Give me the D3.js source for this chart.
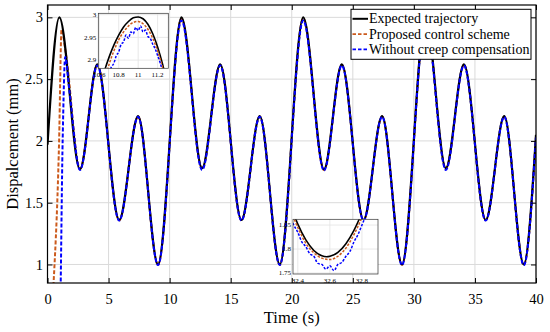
<!DOCTYPE html>
<html>
<head>
<meta charset="utf-8">
<script src="https://cdn.jsdelivr.net/npm/d3@7"></script>
<style>
  body { margin: 0; background: #fff; }
  svg { display: block; font-family: "Liberation Serif", "Times New Roman", serif; }
</style>
</head>
<body>
<svg id="chart" width="550" height="332"></svg>
<script>
// main traces, read at the turning points of the curves
const timeExpected = [0, 0.97, 2.66, 4.08, 5.87, 7.42, 9.05, 10.97, 12.66, 14.14, 15.88, 17.38, 19.02,
  20.94, 22.64, 24.1, 25.88, 27.4, 29.03, 30.96, 32.62, 34.1, 35.88, 37.4, 39.0, 40];
const valExpected = [1.97, 3.0, 1.77, 2.62, 1.36, 2.2, 1.0, 3.0, 1.78, 2.62, 1.36, 2.2, 1.0,
  3.0, 1.77, 2.62, 1.36, 2.2, 1.0, 3.0, 1.78, 2.62, 1.36, 2.2, 1.0, 2.05];

const timeProposed = [0, 0.42, 0.95, 1.15, 1.5, 2.66, 4.08, 5.87, 7.42, 9.05, 10.97, 12.66, 14.14, 15.88, 17.38, 19.02,
  20.94, 22.64, 24.1, 25.88, 27.4, 29.03, 30.96, 32.62, 34.1, 35.88, 37.4, 39.0, 40];
const valProposed = [0, 0.7, 2.0, 2.9, 2.71, 1.775, 2.615, 1.357, 2.197, 0.997, 2.99, 1.775, 2.615, 1.357, 2.197, 0.997,
  2.99, 1.765, 2.615, 1.357, 2.197, 0.997, 2.99, 1.775, 2.615, 1.357, 2.197, 0.997, 2.04];

const timeNoComp = [0, 1.0, 1.24, 1.45, 1.8, 2.66, 4.08, 5.87, 7.42, 9.05, 10.97, 12.66, 14.14, 15.88, 17.38, 19.02,
  20.94, 22.64, 24.1, 25.88, 27.4, 29.03, 30.96, 32.62, 34.1, 35.88, 37.4, 39.0, 40];
const valNoComp = [0, 0.5, 2.0, 2.68, 2.4, 1.765, 2.61, 1.355, 2.195, 0.995, 2.975, 1.765, 2.61, 1.355, 2.195, 0.995,
  2.975, 1.76, 2.61, 1.355, 2.195, 0.995, 2.975, 1.765, 2.61, 1.355, 2.195, 0.995, 2.03];

// inset 1 (peak near t = 11 s)
const in1TimeExp = [10.6, 10.65, 10.7, 10.75, 10.8, 10.85, 10.9, 10.95, 11.0, 11.05, 11.1, 11.15, 11.2, 11.25, 11.3];
const in1ValExp = [2.837, 2.874, 2.906, 2.933, 2.955, 2.973, 2.985, 2.993, 2.995, 2.991, 2.979, 2.958, 2.929, 2.892, 2.846];
const in1TimeProp = [10.6, 10.65, 10.7, 10.75, 10.8, 10.85, 10.9, 10.95, 11.0, 11.05, 11.1, 11.15, 11.2, 11.25, 11.3];
const in1ValProp = [2.81, 2.85, 2.89, 2.92, 2.945, 2.962, 2.975, 2.983, 2.985, 2.98, 2.968, 2.948, 2.92, 2.885, 2.84];
const in1TimeNo = [10.675, 10.7, 10.725, 10.75, 10.775, 10.8, 10.825, 10.85, 10.875, 10.9, 10.925, 10.95, 10.975, 11.0,
  11.025, 11.05, 11.075, 11.1, 11.125, 11.15, 11.175, 11.2, 11.225, 11.25, 11.275];
const in1ValNo = [2.855, 2.87, 2.885, 2.893, 2.91, 2.918, 2.935, 2.94, 2.955, 2.948, 2.962, 2.958, 2.972, 2.965,
  2.975, 2.962, 2.966, 2.952, 2.948, 2.935, 2.925, 2.91, 2.895, 2.875, 2.85];

// inset 2 (valley near t = 32.6 s)
const in2TimeExp = [32.35, 32.4, 32.45, 32.5, 32.55, 32.58, 32.6, 32.65, 32.7, 32.75, 32.8, 32.85];
const in2ValExp = [1.895, 1.852, 1.819, 1.797, 1.786, 1.784, 1.785, 1.793, 1.811, 1.839, 1.876, 1.923];
const in2TimeProp = [32.35, 32.4, 32.45, 32.5, 32.55, 32.6, 32.65, 32.7, 32.75, 32.8, 32.85];
const in2ValProp = [1.885, 1.845, 1.812, 1.792, 1.781, 1.778, 1.785, 1.802, 1.83, 1.866, 1.91];
const in2TimeNo = [32.35, 32.375, 32.4, 32.425, 32.45, 32.475, 32.5, 32.525, 32.55, 32.575, 32.6, 32.625, 32.65,
  32.675, 32.7, 32.725, 32.75, 32.775, 32.8, 32.825, 32.85];
const in2ValNo = [1.87, 1.85, 1.835, 1.815, 1.805, 1.79, 1.785, 1.77, 1.768, 1.758, 1.765, 1.755, 1.768,
  1.772, 1.785, 1.795, 1.815, 1.83, 1.85, 1.87, 1.89];

const xTicks = [0, 5, 10, 15, 20, 25, 30, 35, 40];
const yTicks = [1, 1.5, 2, 2.5, 3];
const seriesNames = ["Expected trajectory", "Proposed control scheme", "Without creep compensation"];

const colors = ["#000000", "#cc5a1c", "#0000ff"];
const drawOrder = [1, 0, 2]; // brown underneath so the blue dashes sit on the black line

const svg = d3.select("#chart");
const m = { left: 47.5, right: 536, top: 5, bottom: 283 };

const x = d3.scaleLinear().domain([0, 40]).range([m.left, m.right]);
const y = d3.scaleLinear().domain([0.85, 3.1]).range([m.bottom, m.top]);

const zip = (ts, vs) => ts.map((t, i) => [t, vs[i]]);
const mainSeries = [
  zip(timeExpected, valExpected),
  zip(timeProposed, valProposed),
  zip(timeNoComp, valNoComp)
];

svg.append("defs").append("clipPath").attr("id", "plotClip")
  .append("rect").attr("x", m.left).attr("y", m.top)
  .attr("width", m.right - m.left).attr("height", m.bottom - m.top);

// grid
svg.append("g").selectAll("line").data(xTicks).join("line")
  .attr("x1", d => x(d)).attr("x2", d => x(d)).attr("y1", m.top).attr("y2", m.bottom)
  .attr("stroke", "#dadada").attr("stroke-width", 1);
svg.append("g").selectAll("line").data(yTicks).join("line")
  .attr("y1", d => y(d)).attr("y2", d => y(d)).attr("x1", m.left).attr("x2", m.right)
  .attr("stroke", "#dadada").attr("stroke-width", 1);

// curves
const line = d3.line().x(d => x(d[0])).y(d => y(d[1])).curve(d3.curveMonotoneX);
const plot = svg.append("g").attr("clip-path", "url(#plotClip)");
drawOrder.forEach(i => {
  plot.append("path").datum(mainSeries[i]).attr("d", line)
    .attr("fill", "none").attr("stroke", colors[i])
    .attr("stroke-width", i === 0 ? 2.2 : 2)
    .attr("stroke-dasharray", i === 0 ? null : "4,2");
});

// axes
const styleAxis = g => {
  g.select(".domain").remove();
  g.selectAll("line").attr("stroke", "#000").attr("stroke-width", 1);
  g.selectAll("text").attr("font-size", "14.5px").attr("fill", "#000")
    .attr("font-family", "Liberation Serif, serif");
};
svg.append("g").attr("transform", `translate(0,${m.bottom})`)
  .call(d3.axisBottom(x).tickValues(xTicks).tickSize(-5).tickPadding(11)).call(styleAxis);
svg.append("g").attr("transform", `translate(${m.left},0)`)
  .call(d3.axisLeft(y).tickValues(yTicks).tickFormat(d3.format("")).tickSize(-5).tickPadding(4.5)).call(styleAxis);
svg.append("g").attr("transform", `translate(0,${m.top})`)
  .call(d3.axisTop(x).tickValues(xTicks).tickSize(-5).tickFormat("")).call(styleAxis);
svg.append("g").attr("transform", `translate(${m.right},0)`)
  .call(d3.axisRight(y).tickValues(yTicks).tickSize(-5).tickFormat("")).call(styleAxis);
svg.append("rect").attr("x", m.left).attr("y", m.top)
  .attr("width", m.right - m.left).attr("height", m.bottom - m.top)
  .attr("fill", "none").attr("stroke", "#000").attr("stroke-width", 1.2);

// axis titles
svg.append("text").attr("x", (m.left + m.right) / 2).attr("y", 323)
  .attr("text-anchor", "middle").attr("font-size", "16.5px").text("Time (s)");
svg.append("text").attr("transform", `translate(18,${(m.top + m.bottom) / 2}) rotate(-90)`)
  .attr("text-anchor", "middle").attr("font-size", "16.5px").text("Dispalcement (mm)");

// insets
function drawInset(id, box, xd, yd, xt, yt, series) {
  const ix = d3.scaleLinear().domain(xd).range([box.x0, box.x1]);
  const iy = d3.scaleLinear().domain(yd).range([box.y1, box.y0]);
  const g = svg.append("g");
  g.append("defs").append("clipPath").attr("id", id)
    .append("rect").attr("x", box.x0).attr("y", box.y0)
    .attr("width", box.x1 - box.x0).attr("height", box.y1 - box.y0);
  g.append("rect").attr("x", box.x0).attr("y", box.y0)
    .attr("width", box.x1 - box.x0).attr("height", box.y1 - box.y0).attr("fill", "#fff");
  g.append("g").selectAll("line").data(xt).join("line")
    .attr("x1", d => ix(d)).attr("x2", d => ix(d)).attr("y1", box.y0).attr("y2", box.y1)
    .attr("stroke", "#e2e2e2").attr("stroke-width", 0.8);
  g.append("g").selectAll("line").data(yt).join("line")
    .attr("y1", d => iy(d)).attr("y2", d => iy(d)).attr("x1", box.x0).attr("x2", box.x1)
    .attr("stroke", "#e2e2e2").attr("stroke-width", 0.8);
  const il = d3.line().x(d => ix(d[0])).y(d => iy(d[1])).curve(d3.curveMonotoneX);
  const pg = g.append("g").attr("clip-path", `url(#${id})`);
  series.forEach((s, i) => {
    pg.append("path").datum(s).attr("d", il)
      .attr("fill", "none").attr("stroke", colors[i])
      .attr("stroke-width", i === 0 ? 1.6 : 1.5)
      .attr("stroke-dasharray", i === 0 ? null : "2.5,1.5");
  });
  g.append("rect").attr("x", box.x0).attr("y", box.y0)
    .attr("width", box.x1 - box.x0).attr("height", box.y1 - box.y0)
    .attr("fill", "none").attr("stroke", "#333").attr("stroke-width", 0.7);
  g.append("g").selectAll("text").data(xt).join("text")
    .attr("x", d => ix(d)).attr("y", box.y1 + 9).attr("text-anchor", "middle")
    .attr("font-size", "7px").text(d => d);
  g.append("g").selectAll("text").data(yt).join("text")
    .attr("x", box.x0 - 2).attr("y", d => iy(d) + 2.3).attr("text-anchor", "end")
    .attr("font-size", "7px").text(d => d);
}

drawInset("in1", { x0: 98.3, x1: 168.3, y0: 13.3, y1: 68.3 }, [10.59, 11.31], [2.882, 3.003],
  [10.6, 10.8, 11, 11.2], [2.9, 2.95, 3],
  [zip(in1TimeExp, in1ValExp), zip(in1TimeProp, in1ValProp), zip(in1TimeNo, in1ValNo)]);

drawInset("in2", { x0: 293, x1: 378, y0: 219.3, y1: 274 }, [32.37, 32.9], [1.748, 1.862],
  [32.4, 32.6, 32.8], [1.75, 1.8, 1.85],
  [zip(in2TimeExp, in2ValExp), zip(in2TimeProp, in2ValProp), zip(in2TimeNo, in2ValNo)]);

// legend
const lg = svg.append("g");
lg.append("rect").attr("x", 351).attr("y", 9.3).attr("width", 180).attr("height", 50)
  .attr("fill", "#fff").attr("stroke", "#000").attr("stroke-width", 1);
seriesNames.forEach((name, i) => {
  const ly = 18.8 + i * 15.3;
  lg.append("line").attr("x1", 352.5).attr("x2", 368).attr("y1", ly).attr("y2", ly)
    .attr("stroke", colors[i]).attr("stroke-width", i === 0 ? 2 : 1.8)
    .attr("stroke-dasharray", i === 0 ? null : "3.5,2");
  lg.append("text").attr("x", 369).attr("y", ly + 4.6).attr("font-size", "14px").text(name);
});
</script>
</body>
</html>
